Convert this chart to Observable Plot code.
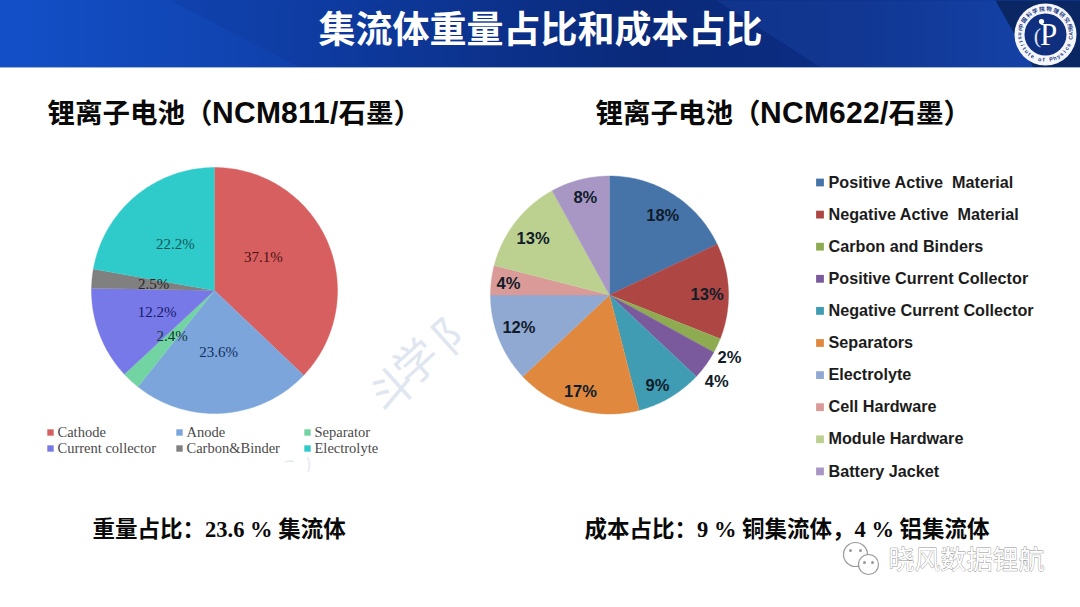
<!DOCTYPE html>
<html>
<head>
<meta charset="utf-8">
<script src="https://cdn.jsdelivr.net/npm/d3@7"></script>
<script src="https://cdn.jsdelivr.net/npm/@observablehq/plot@0.6"></script>
<style>
@font-face{font-family:"LatinTitle";src:local("Liberation Sans Bold"),local("LiberationSans-Bold");font-weight:700;size-adjust:109%}
html,body{margin:0;padding:0;background:#fff;overflow:hidden}
svg{display:block;max-width:none}
</style>
</head>
<body>
<div id="chart"></div>
<script>
// ---------- data ----------
const titleText = "集流体重量占比和成本占比";
const leftTitle = "锂离子电池（NCM811/石墨）";
const rightTitle = "锂离子电池（NCM622/石墨）";
const leftNote = "重量占比：23.6 % 集流体";
const rightNote = "成本占比：9 % 铜集流体，4 % 铝集流体";
const wechatName = "晓风数据锂航";

const weightCategories = ["Cathode", "Anode", "Separator", "Current collector", "Carbon&Binder", "Electrolyte"];
const weightValues = [37.1, 23.6, 2.4, 12.2, 2.5, 22.2];
const weightLabels = ["37.1%", "23.6%", "2.4%", "12.2%", "2.5%", "22.2%"];
const weightColors = ["#d85f5f", "#7ca5dc", "#72d3a3", "#7779e8", "#808080", "#2fcaca"];
const weightInk = ["#4a1414", "#12305c", "#0c3a2c", "#181a6c", "#262626", "#0e5858"];

const costCategories = ["Positive Active  Material", "Negative Active  Material", "Carbon and Binders", "Positive Current Collector", "Negative Current Collector", "Separators", "Electrolyte", "Cell Hardware", "Module Hardware", "Battery Jacket"];
const costValues = [18, 13, 2, 4, 9, 17, 12, 4, 13, 8];
const costLabels = ["18%", "13%", "2%", "4%", "9%", "17%", "12%", "4%", "13%", "8%"];
const costColors = ["#4674a9", "#ae4644", "#8fab51", "#7a5a9c", "#3f9cb3", "#e0893e", "#8fa9d3", "#d99a98", "#bcd08f", "#a897c4"];

// ---------- layout ----------
const W = 1080, H = 607;
const leftPie = {cx: 214, cy: 290, r: 123};
const rightPie = {cx: 609, cy: 294.5, r: 119};
const weightLabelRadius = [0.48, 0.5, 0.507, 0.5, 0.497, 0.496];
const weightLabelShift = [-10.8, 0, 0, 0, 0, 0];
const costLabelRadius = [0.8, 0.82, 1.136, 1.16, 0.86, 0.85, 0.81, 0.854, 0.8, 0.84];
const costLabelShift = [1.6, 1.8, 2.3, 3, 2.6, 0.5, 1.6, -0.7, -1.2, 0.4];

function slices(pie, prefix, values) {
  const total = d3.sum(values);
  const out = [];
  let acc = 0;
  values.forEach((v, i) => {
    const a0 = acc / total * 360, a1 = (acc + v) / total * 360;
    acc += v;
    const key = prefix + i;
    out.push({key, x: pie.cx, y: pie.cy});
    const n = Math.max(2, Math.ceil(a1 - a0));
    for (let k = 0; k <= n; k++) {
      const t = (a0 + (a1 - a0) * k / n) * Math.PI / 180;
      out.push({key, x: pie.cx + pie.r * Math.sin(t), y: pie.cy - pie.r * Math.cos(t)});
    }
  });
  return out;
}
function labelSpots(pie, values, labels, radius, shift, ink) {
  const total = d3.sum(values);
  let acc = 0;
  return values.map((v, i) => {
    const mid = (acc + v / 2) / total * 360 + shift[i];
    acc += v;
    const t = mid * Math.PI / 180;
    return {label: labels[i], ink: ink ? ink[i] : "#101c2a",
      x: pie.cx + radius[i] * pie.r * Math.sin(t), y: pie.cy - radius[i] * pie.r * Math.cos(t)};
  });
}

const keys = [...weightValues.map((_, i) => "w" + i), ...costValues.map((_, i) => "c" + i)];
const ranges = [...weightColors, ...costColors];
const pieRows = [...slices(leftPie, "w", weightValues), ...slices(rightPie, "c", costValues)];

const weightLegend = weightCategories.map((name, i) => ({
  name, key: "w" + i,
  x: [50, 179, 307][i % 3], y: 432 + 16 * Math.floor(i / 3)
}));
const costLegend = costCategories.map((name, i) => ({
  name, key: "c" + i, x: 819.5, y: 182 + 32.1 * i
}));

const bandDark = [[995,0],[1080,0],[1080,67],[1033,67]];
const bandLight = [[716,0],[995,0],[1033,67],[820,67]];
const bandLeft = [[170,0],[716,0],[820,67],[300,67]];
const poly = (pts) => pts.map(([x, y]) => ({x, y}));

// logo ring text
const logo = {cx: 1045, cy: 34};
const ringCN = "中国科学院物理研究所".split("").map((c, i, a) => {
  const deg = -72 + 144 * i / (a.length - 1), t = deg * Math.PI / 180;
  return {c, x: logo.cx + 25.5 * Math.sin(t), y: logo.cy - 25.5 * Math.cos(t), rot: deg};
});
const ringEN = "Institute of Physics CAS".split("").map((c, i, a) => {
  const deg = -100 + 200 * i / (a.length - 1), t = deg * Math.PI / 180;
  return {c, x: logo.cx + 25.5 * Math.sin(t), y: logo.cy + 25.5 * Math.cos(t), rot: -deg};
});

const CN = '"Noto Sans CJK SC"';
const SANS = '"LatinTitle","Liberation Sans",' + CN;
const SERIF = '"Liberation Serif",' + CN;

const gradient = () => {
  const s = d3.create("svg:defs");
  const g = s.append("linearGradient").attr("id", "hdr");
  [[0, "#1350c8"], [0.3, "#0f3fa8"], [0.6, "#0b2b7c"], [0.8, "#0c2f88"], [1, "#123fa6"]]
    .forEach(([o, c]) => g.append("stop").attr("offset", o).attr("stop-color", c));
  return s.node();
};

const chart = Plot.plot({
  width: W, height: H, margin: 0,
  style: {background: "#fff"},
  x: {domain: [0, W], range: [0, W], axis: null},
  y: {domain: [0, H], range: [0, H], axis: null},
  color: {type: "ordinal", domain: keys, range: ranges},
  marks: [
    gradient,
    // header
    Plot.rect([0], {x1: 0, x2: W, y1: 0, y2: 67, fill: "url(#hdr)"}),
    Plot.line(poly(bandLeft), {x: "x", y: "y", fill: "#071f66", fillOpacity: 0.10, stroke: "none"}),
    Plot.line(poly(bandLight), {x: "x", y: "y", fill: "#2a62d0", fillOpacity: 0.16, stroke: "none"}),
    Plot.line(poly(bandDark), {x: "x", y: "y", fill: "#0a2763", stroke: "none"}),
    Plot.rect([0], {x1: 0, x2: W, y1: 67, y2: 68, fill: "#9db4d6"}),
    Plot.text([titleText], {x: 540, y: 31, text: d => d, fill: "#fff", fontFamily: CN, fontWeight: 700, fontSize: 37, textAnchor: "middle"}),

    // logo
    Plot.dot([0], {x: logo.cx, y: logo.cy, r: 31, fill: "#f4f6fa", stroke: "none"}),
    Plot.dot([0], {x: logo.cx, y: logo.cy, r: 21, fill: "#10307f", stroke: "none"}),
    Plot.text(ringCN, {x: "x", y: "y", text: "c", rotate: "rot", fill: "#1c3a86", fontFamily: CN, fontWeight: 700, fontSize: 5.5}),
    Plot.text(ringEN, {x: "x", y: "y", text: "c", rotate: "rot", fill: "#1c3a86", fontFamily: '"Liberation Sans"', fontWeight: 700, fontSize: 5.5}),
    Plot.text(["P"], {x: logo.cx + 3, y: logo.cy + 1, text: d => d, fill: "#fff", fontFamily: '"Liberation Serif"', fontSize: 31}),
    Plot.text(["("], {x: logo.cx - 8, y: logo.cy + 1, text: d => d, fill: "#dfe7f5", fontFamily: '"Liberation Serif"', fontSize: 22}),
    Plot.dot([0], {x: logo.cx - 4, y: logo.cy - 13, r: 2.6, fill: "#fff", stroke: "none"}),

    // watermark
    Plot.text(["斗", "学", "阝"], {x: [393, 417, 456], y: [390, 363, 331], text: d => d, rotate: -42, fill: "#e0e6f0", fontFamily: CN, fontSize: 44}),
    Plot.text(["丶", "ノ"], {x: [290, 308], y: [462, 464], text: d => d, rotate: -42, fill: "#e4e9f2", fontFamily: CN, fontSize: 16}),

    // section titles
    Plot.text([leftTitle], {x: 47, y: 114, text: d => d, textAnchor: "start", fill: "#0a0a0a", fontFamily: SANS, fontWeight: 700, fontSize: 27.5}),
    Plot.text([rightTitle], {x: 595, y: 114, text: d => d, textAnchor: "start", fill: "#0a0a0a", fontFamily: SANS, fontWeight: 700, fontSize: 27.5}),

    // pies
    Plot.line(pieRows, {x: "x", y: "y", z: "key", fill: "key", stroke: "key", strokeWidth: 0.4}),

    // pie labels
    Plot.text(labelSpots(leftPie, weightValues, weightLabels, weightLabelRadius, weightLabelShift, weightInk),
      {x: "x", y: "y", text: "label", fill: "ink", fontFamily: '"Liberation Serif"', fontSize: 15}),
    Plot.text(labelSpots(rightPie, costValues, costLabels, costLabelRadius, costLabelShift),
      {x: "x", y: "y", text: "label", fill: "ink", fontFamily: '"Liberation Sans"', fontWeight: 700, fontSize: 16.5}),

    // left legend
    Plot.dot(weightLegend, {x: "x", y: "y", symbol: "square", r: 3.6, fill: "key", stroke: "none"}),
    Plot.text(weightLegend, {x: d => d.x + 7, y: "y", text: "name", textAnchor: "start", fill: "#4a4a4a", fontFamily: '"Liberation Serif"', fontSize: 14.5}),

    // right legend
    Plot.dot(costLegend, {x: "x", y: "y", symbol: "square", r: 4.4, fill: "key", stroke: "none"}),
    Plot.text(costLegend, {x: d => d.x + 8.5, y: "y", text: "name", textAnchor: "start", fill: "#1c1c1c", fontFamily: '"Liberation Sans"', fontWeight: 700, fontSize: 16.2}),

    // notes
    Plot.text([leftNote], {x: 92, y: 529, text: d => d, textAnchor: "start", fill: "#0a0a0a", fontFamily: SERIF, fontWeight: 700, fontSize: 22.5}),
    Plot.text([rightNote], {x: 584, y: 529, text: d => d, textAnchor: "start", fill: "#0a0a0a", fontFamily: SERIF, fontWeight: 700, fontSize: 22.5}),

    // wechat mark
    Plot.dot([0], {x: 855, y: 554, r: 12, fill: "#fff", stroke: "#9a9a9a", strokeWidth: 1.2}),
    Plot.dot([0], {x: 868, y: 564, r: 10, fill: "#fff", stroke: "#9a9a9a", strokeWidth: 1.2}),
    Plot.dot([0, 1, 2, 3], {x: [850, 860, 864, 872], y: [550, 550, 562, 562], r: 1.5, fill: "#9a9a9a", stroke: "none"}),
    Plot.text([wechatName], {x: 888, y: 560, text: d => d, textAnchor: "start", fill: "#fff", stroke: "#8f8f8f", strokeWidth: 0.8, fontFamily: CN, fontSize: 26})
  ]
});
document.getElementById("chart").appendChild(chart);
</script>
</body>
</html>
